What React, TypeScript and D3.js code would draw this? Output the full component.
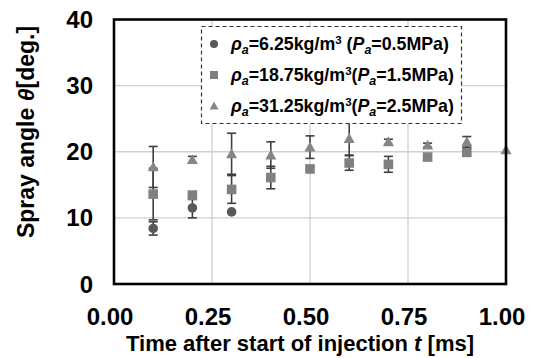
import React from "react";
import * as d3 from "d3";

const circleT = [0.1, 0.2, 0.3];
const circleV = [8.4, 11.5, 10.9];
const circleE = [1.0, 1.5, 0];

const squareT = [0.1, 0.2, 0.3, 0.4, 0.5, 0.6, 0.7, 0.8, 0.9];
const squareV = [13.6, 13.4, 14.3, 16.1, 17.4, 18.3, 18.1, 19.2, 19.9];
const squareE = [3.9, 0.6, 2.1, 1.7, 0, 1.1, 1.2, 0, 0];

const triT = [0.1, 0.2, 0.3, 0.4, 0.5, 0.6, 0.7, 0.8, 0.9, 1.0];
const triV = [17.7, 18.8, 19.7, 19.5, 20.7, 22.0, 21.5, 21.0, 21.5, 20.3];
const triE = [3.1, 0.5, 3.1, 2.0, 1.7, 2.5, 0.4, 0.3, 0.8, 0];

const xTicks = [0, 0.25, 0.5, 0.75, 1.0];
const yTicks = [0, 10, 20, 30, 40];

const legendRows = [
  { rho: "6.25", p: "0.5", gap: " " },
  { rho: "18.75", p: "1.5", gap: "" },
  { rho: "31.25", p: "2.5", gap: "" },
];

const FONT = "Arial, 'Liberation Sans', sans-serif";

export default function App() {
  const W = 534, H = 358;
  const L = 114, R = 506, T = 19.5, B = 284;
  const x = d3.scaleLinear().domain([0, 1]).range([L, R]);
  const y = d3.scaleLinear().domain([0, 40]).range([B, T]);

  const errColor = "#3f3f3f";
  const cColor = "#595959";
  const sColor = "#808080";
  const tColor = "#868686";

  const errBars = (ts: number[], vs: number[], es: number[], key: string) =>
    ts.map((t, i) =>
      es[i] > 0 ? (
        <g key={key + i} stroke={errColor} strokeWidth={1.6}>
          <line x1={x(t)} x2={x(t)} y1={y(vs[i] - es[i])} y2={y(vs[i] + es[i])} />
          <line x1={x(t) - 4.5} x2={x(t) + 4.5} y1={y(vs[i] - es[i])} y2={y(vs[i] - es[i])} />
          <line x1={x(t) - 4.5} x2={x(t) + 4.5} y1={y(vs[i] + es[i])} y2={y(vs[i] + es[i])} />
        </g>
      ) : null
    );

  const triPath = (cx: number, cy: number, s = 5.5) =>
    `M${cx},${cy - s}L${cx + s},${cy + s * 0.8}L${cx - s},${cy + s * 0.8}Z`;

  return (
    <svg width={W} height={H} style={{ position: "absolute", left: 0, top: 0, background: "#fff" }} fontFamily={FONT}>
      <rect x={0} y={0} width={W} height={H} fill="#fff" />
      {/* grid */}
      {xTicks.slice(1, -1).map((t) => (
        <line key={"gx" + t} x1={x(t)} x2={x(t)} y1={T} y2={B} stroke="#d0d0d0" strokeWidth={1.3} />
      ))}
      {yTicks.slice(1, -1).map((v) => (
        <line key={"gy" + v} x1={L} x2={R} y1={y(v)} y2={y(v)} stroke="#d0d0d0" strokeWidth={1.3} />
      ))}
      {/* series */}
      {errBars(circleT, circleV, circleE, "ce")}
      {circleT.map((t, i) => (
        <circle key={"c" + i} cx={x(t)} cy={y(circleV[i])} r={4.8} fill={cColor} />
      ))}
      {errBars(squareT, squareV, squareE, "se")}
      {squareT.map((t, i) => (
        <rect key={"s" + i} x={x(t) - 4.8} y={y(squareV[i]) - 4.8} width={9.6} height={9.6} fill={sColor} />
      ))}
      {errBars(triT, triV, triE, "te")}
      {triT.map((t, i) => (
        <path key={"t" + i} d={triPath(x(t), y(triV[i]))} fill={tColor} />
      ))}
      {/* frame */}
      <rect x={L} y={T} width={R - L} height={B - T} fill="none" stroke="#000" strokeWidth={2.6} />
      {/* legend */}
      <rect x={201.5} y={26.5} width={260} height={97} fill="#fff" stroke="#333" strokeWidth={1.2} strokeDasharray="4,3" />
      {legendRows.map((r, i) => {
        const cy = 44 + i * 31;
        const cx = 214;
        return (
          <g key={"lg" + i}>
            {i === 0 && <circle cx={cx} cy={cy} r={4} fill={cColor} />}
            {i === 1 && <rect x={cx - 4} y={cy - 4} width={8} height={8} fill={sColor} />}
            {i === 2 && <path d={triPath(cx, cy, 4.5)} fill={tColor} />}
            <text x={231} y={cy + 6} fontSize={17.8} fontWeight="bold" fill="#000">
              <tspan fontStyle="italic">ρ</tspan>
              <tspan fontStyle="italic" fontSize={12.5} dy={4}>a</tspan>
              <tspan dy={-4}>{`=${r.rho}kg/m`}</tspan>
              <tspan fontSize={11.5} dy={-6}>3</tspan>
              <tspan dy={6}>{`${r.gap}(`}</tspan>
              <tspan fontStyle="italic">P</tspan>
              <tspan fontStyle="italic" fontSize={12.5} dy={4}>a</tspan>
              <tspan dy={-4}>{`=${r.p}MPa)`}</tspan>
            </text>
          </g>
        );
      })}
      {/* y tick labels */}
      {yTicks.map((v) => (
        <text key={"yl" + v} x={93} y={y(v) + 8.5} textAnchor="end" fontSize={24} fontWeight="bold" fill="#000">
          {v}
        </text>
      ))}
      {/* x tick labels */}
      {xTicks.map((t) => (
        <text key={"xl" + t} x={x(t) - 4} y={325} textAnchor="middle" fontSize={24} fontWeight="bold" fill="#000">
          {t.toFixed(2)}
        </text>
      ))}
      {/* axis titles */}
      <text x={(L + R) / 2 - 10} y={351} textAnchor="middle" fontSize={22} fontWeight="bold" fill="#000">
        Time after start of injection <tspan fontStyle="italic">t</tspan> [ms]
      </text>
      <text transform={`translate(34,${132}) rotate(-90)`} textAnchor="middle" fontSize={23} fontWeight="bold" fill="#000">
        Spray angle <tspan fontStyle="italic">θ</tspan>[deg.]
      </text>
    </svg>
  );
}
